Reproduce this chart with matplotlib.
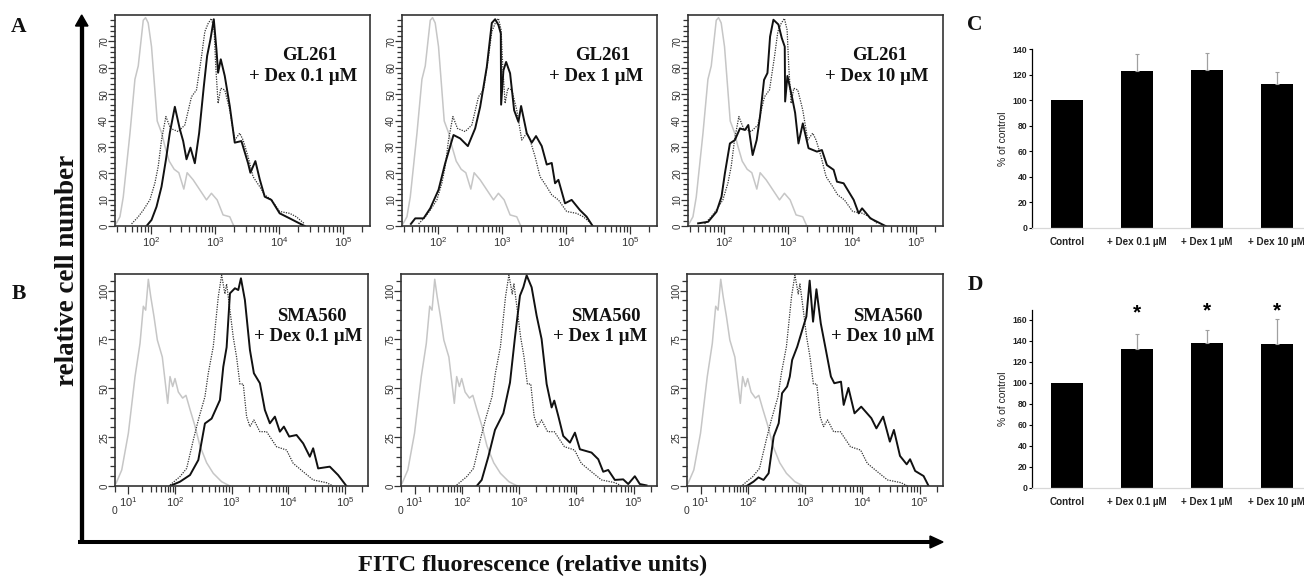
import numpy as np
import matplotlib.pyplot as plt

W, H = 1304, 578
SANS = 'Liberation Sans'
SERIF = 'Liberation Serif'

#========================= DATA =========================
# x = position on the log axis in decades, y = cell count
gl_gray_x = [1.455, 1.517, 1.569, 1.673, 1.751, 1.803, 1.881, 1.917, 1.958, 2.01, 2.062, 2.099, 2.166, 2.218, 2.286, 2.364, 2.436, 2.514, 2.566, 2.66, 2.764, 2.868, 2.945, 3.034, 3.127, 3.231, 3.294]
gl_gray_y = [0.8, 3.5, 11, 35, 55.6, 60.7, 78, 79, 77, 68, 51.6, 39.8, 35.4, 30.3, 24.6, 21.5, 20.2, 14, 20.2, 17.5, 13.7, 9.9, 12.4, 9.9, 4.2, 3.5, 0]
gl_dot_x = [1.699, 1.803, 1.881, 1.984, 2.062, 2.114, 2.166, 2.234, 2.306, 2.426, 2.53, 2.634, 2.712, 2.79, 2.842, 2.894, 2.945, 2.987, 3.013, 3.049, 3.091, 3.153, 3.231, 3.309, 3.387, 3.439, 3.517, 3.595, 3.699, 3.777, 3.881, 4.01, 4.166, 4.27, 4.4]
gl_dot_y = [0.8, 3.5, 6, 9.9, 16.2, 22.5, 32.6, 41.5, 37, 35.8, 38.3, 49, 51.6, 64.2, 73.7, 76.8, 78.7, 74.3, 60.3, 46.5, 52.2, 51.6, 44, 32.6, 35.2, 32.6, 26.3, 18.7, 14.9, 11.8, 9.9, 5.5, 4.8, 3.5, 0.8]
gl_01_x = [1.932, 2.01, 2.088, 2.166, 2.234, 2.296, 2.374, 2.452, 2.504, 2.556, 2.618, 2.686, 2.753, 2.826, 2.878, 2.93, 2.982, 3.023, 3.049, 3.091, 3.153, 3.231, 3.309, 3.413, 3.517, 3.553, 3.631, 3.699, 3.777, 3.881, 4.01, 4.166, 4.27, 4.4]
gl_01_y = [0, 2.3, 7.3, 14.9, 25, 35.4, 45.2, 36.7, 32.2, 25.3, 29.7, 23.8, 35.2, 52.9, 64.5, 70.8, 78.4, 67, 58.1, 63.2, 56.9, 45.5, 31.6, 32.2, 23.8, 20.2, 24.6, 17.7, 11.1, 9.9, 4.8, 2.9, 1.6, 0]
gl_1_x = [1.579, 1.647, 1.777, 1.881, 2.01, 2.114, 2.244, 2.348, 2.468, 2.582, 2.66, 2.764, 2.842, 2.894, 2.945, 2.982, 2.987, 3.023, 3.065, 3.127, 3.19, 3.257, 3.299, 3.387, 3.465, 3.532, 3.621, 3.699, 3.777, 3.829, 3.881, 3.984, 4.088, 4.218, 4.322, 4.416]
gl_1_y = [0.8, 2.9, 2.9, 6.7, 13.7, 23.8, 34.5, 33.2, 30.3, 37, 45.2, 60.4, 77, 78.4, 76.2, 73, 46, 59, 62.2, 57.9, 43.9, 39.5, 45.5, 35.2, 31.6, 34.1, 30.3, 23.3, 23.9, 16.2, 17.5, 8.6, 9.9, 6, 3.5, 0]
gl_10_x = [1.598, 1.755, 1.885, 1.963, 2.016, 2.094, 2.172, 2.251, 2.329, 2.381, 2.449, 2.512, 2.564, 2.627, 2.68, 2.721, 2.773, 2.851, 2.903, 2.95, 2.956, 2.992, 3.06, 3.112, 3.164, 3.232, 3.321, 3.452, 3.53, 3.608, 3.713, 3.765, 3.869, 4.026, 4.104, 4.157, 4.287, 4.392, 4.522]
gl_10_y = [1, 1.6, 5.4, 11.1, 20, 31.3, 32.6, 37, 36.4, 38.3, 26.9, 32.6, 41.5, 55.4, 58, 71.8, 78.2, 76.4, 71.3, 68, 47.2, 56.9, 49.3, 42.9, 31.3, 38.9, 29.5, 28.2, 28.8, 23.1, 21.3, 16.8, 16.2, 9.9, 4.8, 6.7, 2.9, 1.6, 0]

sma_gray_x = [0.959, 1.059, 1.176, 1.294, 1.382, 1.441, 1.482, 1.529, 1.571, 1.629, 1.688, 1.776, 1.871, 1.912, 1.959, 2.0, 2.059, 2.135, 2.194, 2.265, 2.353, 2.441, 2.559, 2.676, 2.824, 2.971]
sma_gray_y = [1.4, 8.2, 27, 56, 73, 92, 90, 105.8, 97, 86.7, 74.7, 66, 42.3, 56, 50.9, 55, 48.1, 45, 46.4, 39.2, 30.7, 20.5, 11.9, 6.5, 2.2, 0]
sma_dot_x = [1.912, 2.088, 2.206, 2.324, 2.412, 2.529, 2.588, 2.676, 2.765, 2.824, 2.882, 2.912, 2.971, 3.029, 3.088, 3.147, 3.206, 3.265, 3.324, 3.394, 3.5, 3.618, 3.794, 3.971, 4.088, 4.265, 4.441, 4.676, 4.794]
sma_dot_y = [0.5, 4.8, 9, 23.6, 33.8, 45.7, 57.7, 71.3, 96.9, 108, 98.3, 103.4, 90, 76.2, 66, 52.2, 52.2, 35.5, 30.4, 33.8, 27.8, 27.8, 20.1, 18.4, 11.6, 7.3, 3.1, 1.7, 0]
sma_01_x = [1.912, 2.088, 2.265, 2.412, 2.529, 2.647, 2.794, 2.853, 2.912, 2.971, 3.059, 3.118, 3.165, 3.235, 3.324, 3.394, 3.5, 3.588, 3.676, 3.765, 3.853, 3.924, 4.018, 4.147, 4.265, 4.382, 4.441, 4.529, 4.735, 4.882, 5.029]
sma_01_y = [0, 2.2, 5.6, 13.3, 32, 34.5, 44, 61, 71, 98.6, 101.2, 100.3, 106.3, 95.2, 69.6, 57.7, 52.6, 38.9, 32.1, 35.5, 27.8, 30.4, 25.3, 26.1, 21.8, 15, 19.3, 9, 9.9, 5.6, 0]
sma_1_x = [2.262, 2.349, 2.465, 2.581, 2.727, 2.843, 2.93, 3.017, 3.076, 3.134, 3.221, 3.308, 3.395, 3.483, 3.57, 3.616, 3.686, 3.773, 3.89, 3.977, 4.064, 4.267, 4.384, 4.471, 4.558, 4.674, 4.82, 4.907, 5.023, 5.11, 5.227]
sma_1_y = [0, 3.1, 15, 28.7, 37.2, 52.9, 76.1, 97.4, 101.7, 107.8, 101.7, 87.2, 75.2, 52.2, 40.2, 43.7, 35.9, 25.6, 22.2, 27.3, 18.8, 17.1, 13.7, 7.3, 8.2, 3.1, 3.4, 1, 5, 1, 0.3]
sma_10_x = [1.982, 2.1, 2.188, 2.276, 2.365, 2.453, 2.541, 2.6, 2.688, 2.735, 2.776, 2.865, 2.953, 3.024, 3.082, 3.141, 3.2, 3.276, 3.365, 3.453, 3.512, 3.629, 3.676, 3.759, 3.865, 3.982, 4.159, 4.247, 4.365, 4.482, 4.553, 4.659, 4.776, 4.835, 4.924, 5.071, 5.159]
sma_10_y = [0, 2.2, 4.4, 3.1, 6.5, 25.3, 32.1, 47.5, 50.9, 56, 64.5, 71.3, 79.9, 86.7, 105.1, 84.1, 100.7, 83.2, 69.6, 56, 52.6, 53.4, 41.5, 50.2, 37.2, 40.6, 34.7, 29.5, 35.5, 22.7, 28.7, 15.4, 11.1, 13.7, 7.7, 5.1, 0]

bar_labels = ['Control', '+ Dex 0.1 \u00b5M', '+ Dex 1 \u00b5M', '+ Dex 10 \u00b5M']
c_values = [100, 123, 124, 113]
c_errors = [0, 13, 13, 9]
d_values = [100, 132, 138, 137]
d_errors = [0, 15, 12, 24]
d_stars = [167, 169, 169]


#========================= FUNCTIONS =========================
def pixel_axes(left, top, right, bottom):
    return fig.add_axes([left / W, 1 - bottom / H, (right - left) / W, (bottom - top) / H])


def log_ticks(start, stop):
    out = []
    for d in range(start, stop):
        out += [d + np.log10(k) for k in range(2, 10)]
    return out


def histogram_panel(box, black, gray, dotted, xlim, ylim, row, names, name_x, name_y):
    ax = pixel_axes(*box)
    ax.plot(gray[0], gray[1], color='#c6c6c6', lw=1.1)
    ax.plot(dotted[0], dotted[1], color='#333333', lw=0.9, ls=(0, (1, 1)))
    ax.plot(black[0], black[1], color='#111111', lw=1.4)
    ax.set_xlim(xlim)
    ax.set_ylim(ylim)

    if row == 'A':
        ax.set_yticks(range(0, 80, 10))
        ax.set_yticks(range(0, 80, 2), minor=True)
        ax.set_xticks([2, 3, 4, 5])
        ax.set_xticklabels([r'$\mathregular{10^{%d}}$' % d for d in [2, 3, 4, 5]])
        ax.set_xticks([1.477, 1.602, 1.699, 1.778, 1.845, 1.903, 1.954] + log_ticks(2, 5) + [5.301], minor=True)
    else:
        ax.set_yticks([0, 25, 50, 75, 100])
        ax.set_yticks(range(0, 106, 5), minor=True)
        ax.set_xticks([1.176, 2, 3, 4, 5])
        ax.set_xticklabels([r'$\mathregular{10^{%d}}$' % d for d in [1, 2, 3, 4, 5]])
        low = [1.176 + 0.824 * np.log10(k) for k in range(2, 10)]
        ax.set_xticks([xlim[0]] + low + log_ticks(2, 5) + [5.301], minor=True)
        ax.text(xlim[0], -0.118, '0', transform=ax.get_xaxis_transform(),
                fontsize=7.5, family=SANS, color='#333333', ha='center', va='center')

    ax.tick_params(axis='x', which='major', length=6, width=0.9, color='#333333', pad=0.5,
                   labelsize=8, labelcolor='#333333')
    ax.tick_params(axis='x', which='minor', length=4.5, width=0.9, color='#333333')
    ax.tick_params(axis='y', which='major', length=5, width=0.9, color='#333333', pad=-0.8,
                   labelsize=7, labelcolor='#333333')
    ax.tick_params(axis='y', which='minor', length=3.5, width=0.9, color='#333333')
    for lab in ax.get_yticklabels():
        lab.set_rotation(90)
        lab.set_va('center')
    for lab in ax.get_xticklabels() + ax.get_yticklabels():
        lab.set_family(SANS)
    for sp in ax.spines.values():
        sp.set_linewidth(1.2)
        sp.set_color('#333333')

    for txt, tx, ty in zip(names, name_x, name_y):
        ax.text(tx, ty, txt, transform=ax.transAxes, family=SERIF, fontweight='bold',
                fontsize=13.5, color='#111111', ha='center', va='center')
    return ax


def bar_panel(box, values, errors, ylim, ticks, xright):
    ax = pixel_axes(*box)
    pos = np.arange(len(values))
    ax.bar(pos, values, width=0.46, color='black')
    ax.errorbar(pos[1:], values[1:], yerr=[[0] * 3, errors[1:]], fmt='none', ecolor='#a0a0a0',
                elinewidth=0.9, capsize=1.3, capthick=0.8)
    ax.set_xlim(-0.5, xright)
    ax.set_ylim(ylim)
    ax.set_yticks(ticks)
    ax.set_xticks(pos)
    ax.set_xticklabels(bar_labels, clip_on=False)
    ax.tick_params(axis='x', length=0, pad=6.5, labelsize=7.1, labelcolor='#222222')
    ax.tick_params(axis='y', length=2, width=0.8, pad=1.5, labelsize=6.2, labelcolor='#222222')
    for lab in ax.get_xticklabels() + ax.get_yticklabels():
        lab.set_family(SANS)
        lab.set_fontweight('bold')
    ax.set_ylabel('% of control', family=SANS, fontsize=7.5, labelpad=3, color='#222222')
    ax.spines['top'].set_visible(False)
    ax.spines['right'].set_visible(False)
    ax.spines['left'].set_linewidth(0.9)
    ax.spines['bottom'].set_linewidth(0.9)
    ax.spines['bottom'].set_color('#d8d8d8')
    return ax


#========================= MAIN =========================
fig = plt.figure(figsize=(W / 100, H / 100), dpi=100)

gl_gray = (gl_gray_x, gl_gray_y)
gl_dot = (gl_dot_x, gl_dot_y)
sma_gray = (sma_gray_x, sma_gray_y)
sma_dot = (sma_dot_x, sma_dot_y)

histogram_panel((115, 15, 370, 226), (gl_01_x, gl_01_y), gl_gray, gl_dot, (1.44, 5.42), (0, 80), 'A',
                ['GL261', '+ Dex 0.1 \u00b5M'], [0.765, 0.736], [0.809, 0.707])
histogram_panel((402, 15, 657, 226), (gl_1_x, gl_1_y), gl_gray, gl_dot, (1.44, 5.42), (0, 80), 'A',
                ['GL261', '+ Dex 1 \u00b5M'], [0.788, 0.762], [0.809, 0.707])
histogram_panel((688, 15, 943, 226), (gl_10_x, gl_10_y), gl_gray, gl_dot, (1.44, 5.42), (0, 80), 'A',
                ['GL261', '+ Dex 10 \u00b5M'], [0.752, 0.742], [0.809, 0.707])
histogram_panel((115, 274, 368, 486), (sma_01_x, sma_01_y), sma_gray, sma_dot, (0.94, 5.41), (0, 108.5), 'B',
                ['SMA560', '+ Dex 0.1 \u00b5M'], [0.776, 0.763], [0.800, 0.705])
histogram_panel((401, 274, 657, 486), (sma_1_x, sma_1_y), sma_gray, sma_dot, (0.94, 5.41), (0, 108.5), 'B',
                ['SMA560', '+ Dex 1 \u00b5M'], [0.80, 0.779], [0.800, 0.705])
histogram_panel((687, 274, 943, 486), (sma_10_x, sma_10_y), sma_gray, sma_dot, (0.94, 5.41), (0, 108.5), 'B',
                ['SMA560', '+ Dex 10 \u00b5M'], [0.784, 0.765], [0.800, 0.705])

bar_panel((1032, 49.3, 1304, 227.7), c_values, c_errors, (0, 140), range(0, 141, 20), 3.39)
ax_d = bar_panel((1032, 309.5, 1304, 487.7), d_values, d_errors, (0, 170), range(0, 161, 20), 3.39)
for xpos, ypos in zip([1, 2, 3], d_stars):
    ax_d.text(xpos, ypos, '*', ha='center', va='center', fontsize=15, fontweight='bold',
              family=SANS, clip_on=False)

# big axis arrows
fig.add_artist(plt.Line2D([81.7 / W, 81.7 / W], [1 - 544 / H, 1 - 26 / H], color='black', lw=3.1,
                          solid_capstyle='butt'))
fig.add_artist(plt.Line2D([78 / W, 932 / W], [1 - 542 / H, 1 - 542 / H], color='black', lw=2.9,
                          solid_capstyle='butt'))
fig.add_artist(plt.Polygon([(75.5 / W, 1 - 26 / H), (88 / W, 1 - 26 / H), (81.7 / W, 1 - 15 / H)],
                           color='black', transform=fig.transFigure))
fig.add_artist(plt.Polygon([(930 / W, 1 - 536 / H), (930 / W, 1 - 548 / H), (943 / W, 1 - 542 / H)],
                           color='black', transform=fig.transFigure))

fig.text(67 / W, 1 - 270 / H, 'relative cell number', rotation=90, family=SERIF, fontweight='bold',
         fontsize=19.5, ha='center', va='center', color='#111111')
fig.text(533 / W, 1 - 565 / H, 'FITC fluorescence (relative units)', family=SERIF, fontweight='bold',
         fontsize=17.5, ha='center', va='center', color='#111111')

for letter, px, py in zip('ABCD', [19, 19, 975, 975], [27, 294, 25, 285]):
    fig.text(px / W, 1 - py / H, letter, family=SERIF, fontweight='bold', fontsize=15.5,
             ha='center', va='center', color='#111111')

plt.savefig('out.png', dpi=100)
plt.close()
